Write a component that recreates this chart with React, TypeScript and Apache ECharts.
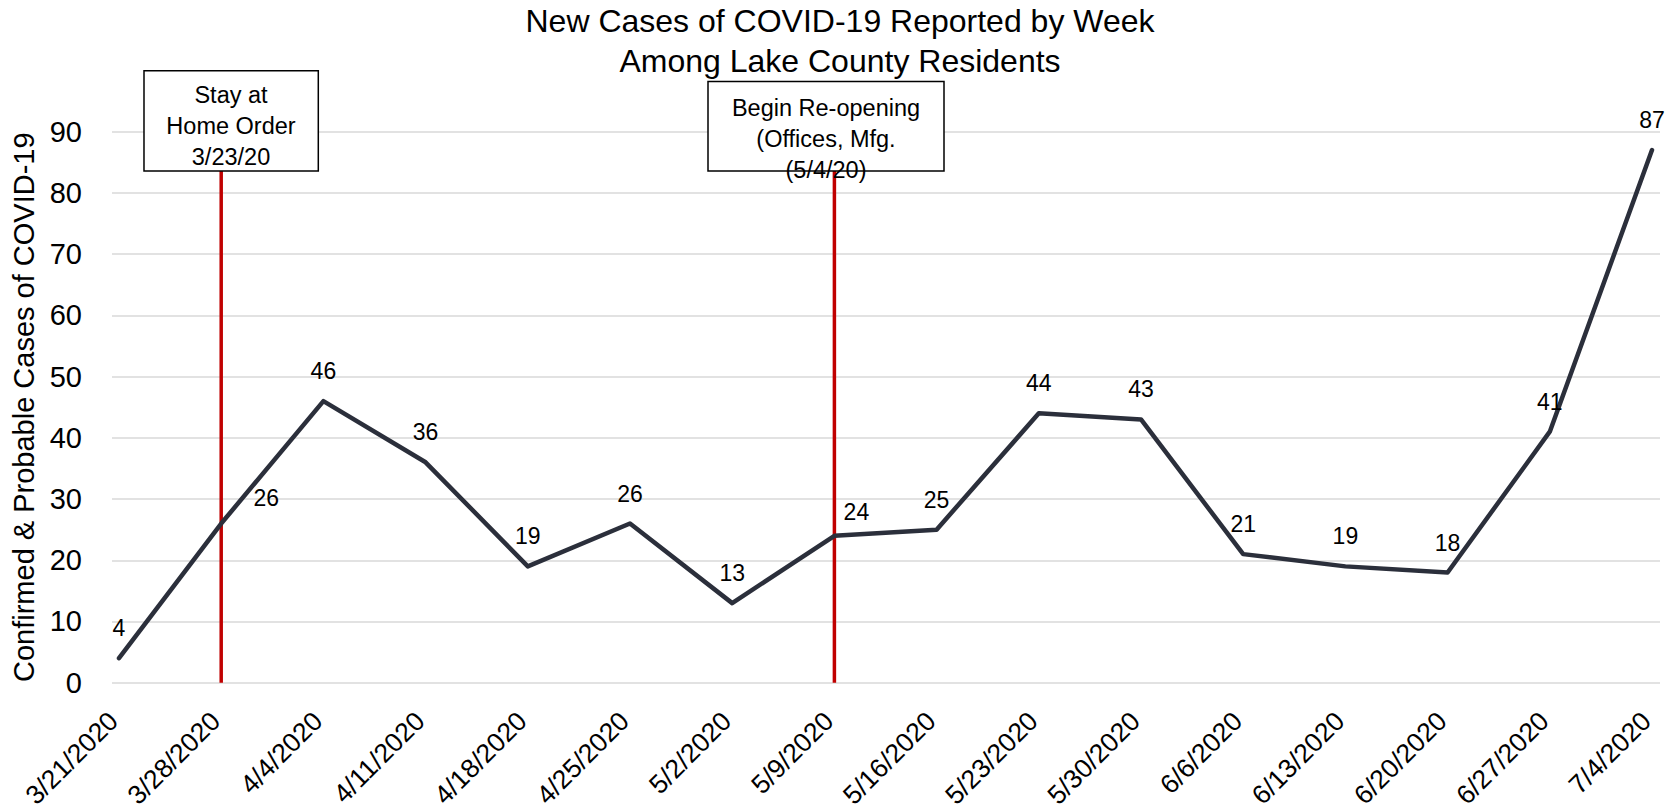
import React, { useEffect, useRef } from 'react';
import * as echarts from 'echarts';

// ---- Data ----
const categories: string[] = [
  '3/21/2020', '3/28/2020', '4/4/2020', '4/11/2020', '4/18/2020', '4/25/2020',
  '5/2/2020', '5/9/2020', '5/16/2020', '5/23/2020', '5/30/2020', '6/6/2020',
  '6/13/2020', '6/20/2020', '6/27/2020', '7/4/2020',
];
const newCases: number[] = [4, 26, 46, 36, 19, 26, 13, 24, 25, 44, 43, 21, 19, 18, 41, 87];

const yMin = 0;
const yMax = 90;
const yInterval = 10;

const titleLines: string[] = ['New Cases of COVID-19 Reported by Week', 'Among Lake County Residents'];
const yAxisName = 'Confirmed & Probable Cases of COVID-19';

const annotationDates: string[] = ['3/28/2020', '5/9/2020'];
const annotationTexts: string[][] = [
  ['Stay at', 'Home Order', '3/23/20'],
  ['Begin Re-opening', '(Offices, Mfg.', '(5/4/20)'],
];

// ---- Layout (positions / styles) ----
const boxRects = [
  { x: 144, y: 70.7, w: 174.3, h: 100.3, tx: 231, ty: 126 },
  { x: 708, y: 81.4, w: 236, h: 89.6, tx: 826, ty: 139 },
];
const labelOffsets: Record<number, [number, number]> = { 1: [45, 4], 7: [22, 6] };

const FONT = '"Liberation Sans", Arial, Helvetica, sans-serif';
const GRID_TOP = 131.7;
const GRID_BOTTOM = 812 - 682.7;

export default function App() {
  const ref = useRef<HTMLDivElement>(null);

  useEffect(() => {
    document.body.style.margin = '0';
    const chart = echarts.init(ref.current!, null, { renderer: 'svg' });

    const seriesData = newCases.map((v, i) =>
      labelOffsets[i] ? { value: v, label: { offset: labelOffsets[i] } } : v
    );

    chart.setOption({
      animation: false,
      backgroundColor: '#ffffff',
      textStyle: { fontFamily: FONT },
      title: {
        text: titleLines.join('\n'),
        left: 'center',
        top: 0,
        padding: [1, 0, 0, 12],
        textStyle: {
          fontFamily: FONT,
          fontSize: 32,
          fontWeight: 'normal',
          color: '#000000',
          lineHeight: 40,
        },
      },
      grid: [
        { left: 112, right: 20, top: GRID_TOP, bottom: GRID_BOTTOM },
        { left: 119, right: 28, top: GRID_TOP, bottom: GRID_BOTTOM },
      ],
      xAxis: [
        {
          type: 'category',
          gridIndex: 0,
          data: categories,
          show: false,
          boundaryGap: false,
        },
        {
          type: 'category',
          gridIndex: 1,
          data: categories,
          boundaryGap: false,
          axisLine: { show: false },
          axisTick: { show: false },
          splitLine: { show: false },
          axisLabel: {
            interval: 0,
            rotate: 45,
            margin: 28,
            padding: [0, 8, 0, 0],
            fontSize: 26.5,
            fontFamily: FONT,
            color: '#000000',
          },
        },
      ],
      yAxis: [
        {
          type: 'value',
          gridIndex: 0,
          min: yMin,
          max: yMax,
          interval: yInterval,
          axisLine: { show: false },
          axisTick: { show: false },
          splitLine: { show: true, lineStyle: { color: '#D9D9D9', width: 1.5 } },
          axisLabel: { fontSize: 29, fontFamily: FONT, color: '#000000', margin: 30 },
          name: yAxisName,
          nameLocation: 'middle',
          nameGap: 72,
          nameTextStyle: { fontSize: 29, fontFamily: FONT, color: '#000000' },
        },
        {
          type: 'value',
          gridIndex: 1,
          min: yMin,
          max: yMax,
          interval: yInterval,
          show: false,
          splitLine: { show: false },
        },
      ],
      series: [
        {
          type: 'line',
          xAxisIndex: 1,
          yAxisIndex: 1,
          data: seriesData,
          symbol: 'circle',
          symbolSize: 1,
          showSymbol: true,
          itemStyle: { color: '#2B2F3B' },
          lineStyle: { color: '#2B2F3B', width: 4.5, cap: 'round', join: 'round' },
          label: {
            show: true,
            position: 'top',
            distance: 18,
            fontSize: 23,
            fontFamily: FONT,
            color: '#000000',
          },
          z: 3,
        },
      ],
    });

    const y0 = chart.convertToPixel({ yAxisIndex: 1 }, yMin) as number;
    const graphics: any[] = [];
    annotationDates.forEach((d, i) => {
      const x = chart.convertToPixel({ xAxisIndex: 1 }, d) as number;
      const b = boxRects[i];
      graphics.push({
        type: 'line',
        z: 1,
        shape: { x1: x, y1: y0, x2: x, y2: b.y + b.h },
        style: { stroke: '#C00000', lineWidth: 3.5 },
      });
      graphics.push({
        type: 'rect',
        z: 1,
        shape: { x: b.x, y: b.y, width: b.w, height: b.h },
        style: { fill: '#ffffff', stroke: '#000000', lineWidth: 1.5 },
      });
      graphics.push({
        type: 'text',
        z: 2,
        x: b.tx,
        y: b.ty,
        style: {
          text: annotationTexts[i].join('\n'),
          fontSize: 23.5,
          fontFamily: FONT,
          fill: '#000000',
          textAlign: 'center',
          textVerticalAlign: 'middle',
          align: 'center',
          verticalAlign: 'middle',
          lineHeight: 31,
        },
      });
    });
    chart.setOption({ graphic: graphics });

    return () => {
      chart.dispose();
    };
  }, []);

  return <div ref={ref} style={{ width: '1680px', height: '812px' }} />;
}
